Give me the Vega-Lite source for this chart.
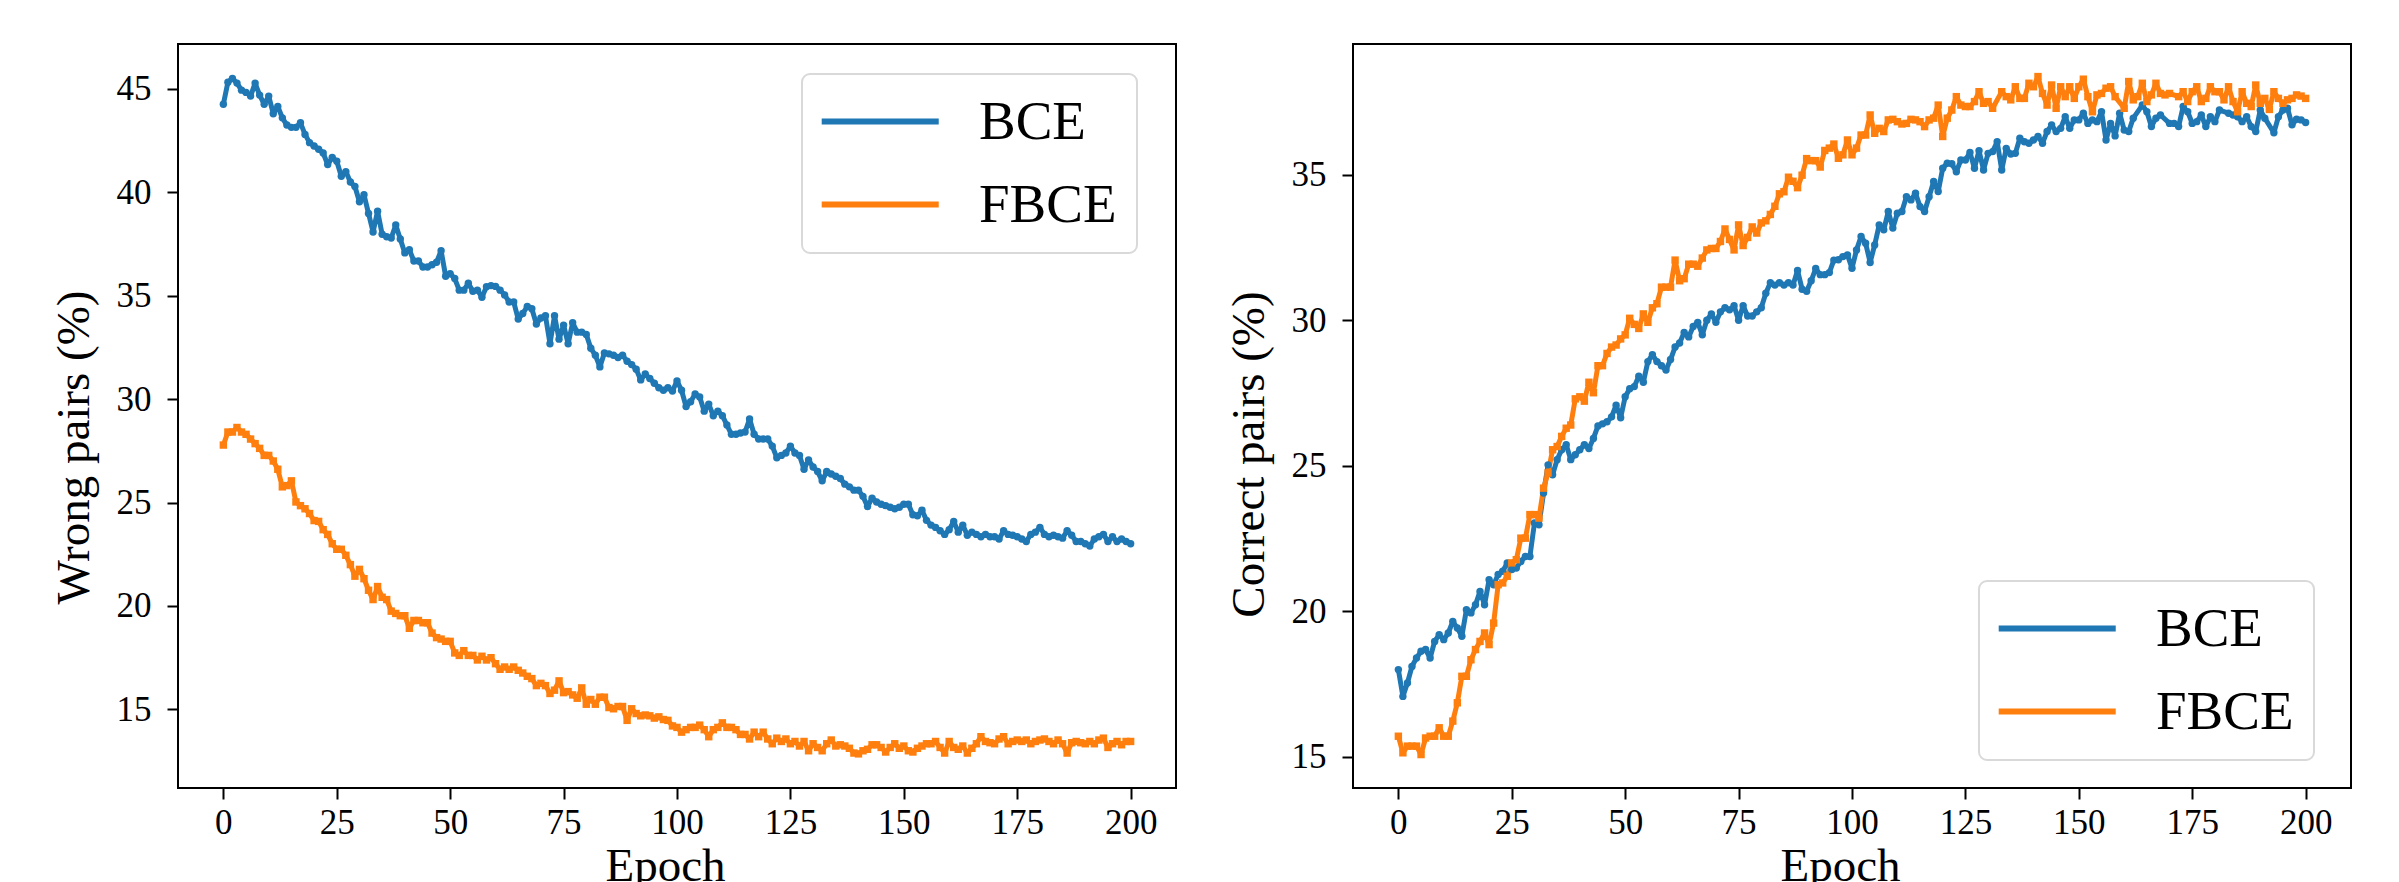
{
"$schema": "https://vega.github.io/schema/vega-lite/v6.json",
"autosize": {"type": "none"},
"padding": {"left": 178, "top": 44, "right": 2221, "bottom": 838},
"background": "white",
"spacing": 47,
"config": {
"font": "Liberation Serif",
"view": {"stroke": "black", "strokeWidth": 2},
"axis": {"domain": false, "grid": false, "tickColor": "black", "tickWidth": 2, "tickSize": 11, "labelFont": "Liberation Serif", "labelFontSize": 35, "labelColor": "black", "labelFlush": false, "labelOverlap": false, "titleFont": "Liberation Serif", "titleFontSize": 47, "titleFontWeight": "normal", "titleColor": "black"},
"axisX": {"labelPadding": 6, "titlePadding": 3},
"axisY": {"labelPadding": 16, "titlePadding": 18},
"legend": {"title": null, "symbolType": "M-1.9,0H6.1", "symbolSize": 856, "symbolStrokeWidth": 6, "labelFont": "Liberation Serif", "labelFontSize": 55, "labelColor": "black", "labelOffset": 102, "rowPadding": 27, "padding": 20, "fillColor": "white", "strokeColor": "#d9d9d9", "strokeWidth": 2, "cornerRadius": 8}
},
"datasets": {
"wrong": [
{"epoch":0,"BCE":44.26,"FBCE":27.78},{"epoch":1,"BCE":45.32,"FBCE":28.41},{"epoch":2,"BCE":45.5,"FBCE":28.41},{"epoch":3,"BCE":45.28,"FBCE":28.63},{"epoch":4,"BCE":44.94,"FBCE":28.41},{"epoch":5,"BCE":44.83,"FBCE":28.3},{"epoch":6,"BCE":44.65,"FBCE":28.07},{"epoch":7,"BCE":45.28,"FBCE":27.85},{"epoch":8,"BCE":44.7,"FBCE":27.62},{"epoch":9,"BCE":44.26,"FBCE":27.28},
{"epoch":10,"BCE":44.65,"FBCE":27.28},{"epoch":11,"BCE":43.8,"FBCE":27.01},{"epoch":12,"BCE":44.15,"FBCE":26.61},{"epoch":13,"BCE":43.6,"FBCE":25.76},{"epoch":14,"BCE":43.25,"FBCE":25.82},{"epoch":15,"BCE":43.14,"FBCE":26.05},{"epoch":16,"BCE":43.14,"FBCE":25.03},{"epoch":17,"BCE":43.36,"FBCE":24.85},{"epoch":18,"BCE":42.8,"FBCE":24.7},{"epoch":19,"BCE":42.4,"FBCE":24.47},
{"epoch":20,"BCE":42.24,"FBCE":24.13},{"epoch":21,"BCE":42.08,"FBCE":24.09},{"epoch":22,"BCE":41.9,"FBCE":23.69},{"epoch":23,"BCE":41.34,"FBCE":23.46},{"epoch":24,"BCE":41.68,"FBCE":23.01},{"epoch":25,"BCE":41.5,"FBCE":22.74},{"epoch":26,"BCE":40.78,"FBCE":22.74},{"epoch":27,"BCE":41.0,"FBCE":22.45},{"epoch":28,"BCE":40.5,"FBCE":22.0},{"epoch":29,"BCE":40.28,"FBCE":21.44},
{"epoch":30,"BCE":39.54,"FBCE":21.77},{"epoch":31,"BCE":39.88,"FBCE":21.32},{"epoch":32,"BCE":38.98,"FBCE":20.76},{"epoch":33,"BCE":38.08,"FBCE":20.31},{"epoch":34,"BCE":39.09,"FBCE":20.94},{"epoch":35,"BCE":37.97,"FBCE":20.42},{"epoch":36,"BCE":37.85,"FBCE":20.31},{"epoch":37,"BCE":37.79,"FBCE":19.75},{"epoch":38,"BCE":38.42,"FBCE":19.64},{"epoch":39,"BCE":37.74,"FBCE":19.53},
{"epoch":40,"BCE":37.07,"FBCE":19.53},{"epoch":41,"BCE":37.22,"FBCE":18.92},{"epoch":42,"BCE":36.68,"FBCE":19.3},{"epoch":43,"BCE":36.68,"FBCE":19.3},{"epoch":44,"BCE":36.39,"FBCE":19.19},{"epoch":45,"BCE":36.39,"FBCE":19.19},{"epoch":46,"BCE":36.5,"FBCE":18.69},{"epoch":47,"BCE":36.62,"FBCE":18.47},{"epoch":48,"BCE":37.18,"FBCE":18.4},{"epoch":49,"BCE":35.94,"FBCE":18.29},
{"epoch":50,"BCE":36.06,"FBCE":18.29},{"epoch":51,"BCE":35.83,"FBCE":17.73},{"epoch":52,"BCE":35.27,"FBCE":17.61},{"epoch":53,"BCE":35.27,"FBCE":17.84},{"epoch":54,"BCE":35.6,"FBCE":17.61},{"epoch":55,"BCE":35.22,"FBCE":17.61},{"epoch":56,"BCE":35.27,"FBCE":17.39},{"epoch":57,"BCE":34.93,"FBCE":17.57},{"epoch":58,"BCE":35.43,"FBCE":17.39},{"epoch":59,"BCE":35.49,"FBCE":17.5},
{"epoch":60,"BCE":35.45,"FBCE":17.21},{"epoch":61,"BCE":35.27,"FBCE":16.94},{"epoch":62,"BCE":35.04,"FBCE":17.05},{"epoch":63,"BCE":34.7,"FBCE":16.94},{"epoch":64,"BCE":34.7,"FBCE":17.05},{"epoch":65,"BCE":33.87,"FBCE":16.89},{"epoch":66,"BCE":34.14,"FBCE":16.76},{"epoch":67,"BCE":34.48,"FBCE":16.6},{"epoch":68,"BCE":34.37,"FBCE":16.49},{"epoch":69,"BCE":33.63,"FBCE":16.15},
{"epoch":70,"BCE":33.92,"FBCE":16.26},{"epoch":71,"BCE":34.03,"FBCE":16.15},{"epoch":72,"BCE":32.68,"FBCE":15.77},{"epoch":73,"BCE":34.03,"FBCE":15.93},{"epoch":74,"BCE":32.9,"FBCE":16.38},{"epoch":75,"BCE":33.58,"FBCE":15.81},{"epoch":76,"BCE":32.68,"FBCE":15.86},{"epoch":77,"BCE":33.69,"FBCE":15.7},{"epoch":78,"BCE":33.24,"FBCE":15.54},{"epoch":79,"BCE":33.24,"FBCE":16.04},
{"epoch":80,"BCE":33.13,"FBCE":15.25},{"epoch":81,"BCE":32.46,"FBCE":15.48},{"epoch":82,"BCE":32.12,"FBCE":15.25},{"epoch":83,"BCE":31.56,"FBCE":15.59},{"epoch":84,"BCE":32.23,"FBCE":15.59},{"epoch":85,"BCE":32.19,"FBCE":15.09},{"epoch":86,"BCE":32.12,"FBCE":15.03},{"epoch":87,"BCE":32.01,"FBCE":15.14},{"epoch":88,"BCE":32.12,"FBCE":15.14},{"epoch":89,"BCE":31.83,"FBCE":14.47},
{"epoch":90,"BCE":31.67,"FBCE":15.03},{"epoch":91,"BCE":31.45,"FBCE":14.8},{"epoch":92,"BCE":30.93,"FBCE":14.69},{"epoch":93,"BCE":31.22,"FBCE":14.73},{"epoch":94,"BCE":31.0,"FBCE":14.69},{"epoch":95,"BCE":30.77,"FBCE":14.58},{"epoch":96,"BCE":30.55,"FBCE":14.64},{"epoch":97,"BCE":30.43,"FBCE":14.51},{"epoch":98,"BCE":30.55,"FBCE":14.47},{"epoch":99,"BCE":30.39,"FBCE":14.2},
{"epoch":100,"BCE":30.88,"FBCE":14.13},{"epoch":101,"BCE":30.43,"FBCE":13.9},{"epoch":102,"BCE":29.64,"FBCE":14.02},{"epoch":103,"BCE":29.87,"FBCE":14.13},{"epoch":104,"BCE":30.25,"FBCE":14.13},{"epoch":105,"BCE":30.1,"FBCE":14.24},{"epoch":106,"BCE":29.42,"FBCE":14.02},{"epoch":107,"BCE":29.76,"FBCE":13.68},{"epoch":108,"BCE":29.2,"FBCE":14.02},{"epoch":109,"BCE":29.42,"FBCE":14.13},
{"epoch":110,"BCE":29.2,"FBCE":14.35},{"epoch":111,"BCE":28.75,"FBCE":14.13},{"epoch":112,"BCE":28.3,"FBCE":14.13},{"epoch":113,"BCE":28.3,"FBCE":14.02},{"epoch":114,"BCE":28.36,"FBCE":13.79},{"epoch":115,"BCE":28.41,"FBCE":13.79},{"epoch":116,"BCE":29.04,"FBCE":13.57},{"epoch":117,"BCE":28.3,"FBCE":13.9},{"epoch":118,"BCE":28.07,"FBCE":13.68},{"epoch":119,"BCE":28.07,"FBCE":13.9},
{"epoch":120,"BCE":28.07,"FBCE":13.57},{"epoch":121,"BCE":27.73,"FBCE":13.34},{"epoch":122,"BCE":27.17,"FBCE":13.61},{"epoch":123,"BCE":27.28,"FBCE":13.45},{"epoch":124,"BCE":27.4,"FBCE":13.57},{"epoch":125,"BCE":27.73,"FBCE":13.34},{"epoch":126,"BCE":27.4,"FBCE":13.45},{"epoch":127,"BCE":27.28,"FBCE":13.23},{"epoch":128,"BCE":26.61,"FBCE":13.45},{"epoch":129,"BCE":27.06,"FBCE":13.0},
{"epoch":130,"BCE":26.72,"FBCE":13.34},{"epoch":131,"BCE":26.5,"FBCE":13.16},{"epoch":132,"BCE":26.05,"FBCE":13.0},{"epoch":133,"BCE":26.5,"FBCE":13.34},{"epoch":134,"BCE":26.38,"FBCE":13.52},{"epoch":135,"BCE":26.27,"FBCE":13.23},{"epoch":136,"BCE":26.16,"FBCE":13.29},{"epoch":137,"BCE":25.89,"FBCE":13.23},{"epoch":138,"BCE":25.76,"FBCE":13.12},{"epoch":139,"BCE":25.6,"FBCE":12.89},
{"epoch":140,"BCE":25.6,"FBCE":12.85},{"epoch":141,"BCE":25.3,"FBCE":13.0},{"epoch":142,"BCE":24.81,"FBCE":13.07},{"epoch":143,"BCE":25.21,"FBCE":13.29},{"epoch":144,"BCE":25.03,"FBCE":13.29},{"epoch":145,"BCE":24.92,"FBCE":13.16},{"epoch":146,"BCE":24.85,"FBCE":12.94},{"epoch":147,"BCE":24.77,"FBCE":13.16},{"epoch":148,"BCE":24.7,"FBCE":13.34},{"epoch":149,"BCE":24.77,"FBCE":13.12},
{"epoch":150,"BCE":24.92,"FBCE":13.23},{"epoch":151,"BCE":24.92,"FBCE":13.0},{"epoch":152,"BCE":24.41,"FBCE":12.94},{"epoch":153,"BCE":24.36,"FBCE":13.12},{"epoch":154,"BCE":24.63,"FBCE":13.23},{"epoch":155,"BCE":24.14,"FBCE":13.34},{"epoch":156,"BCE":23.91,"FBCE":13.34},{"epoch":157,"BCE":23.8,"FBCE":13.45},{"epoch":158,"BCE":23.64,"FBCE":13.16},{"epoch":159,"BCE":23.46,"FBCE":12.89},
{"epoch":160,"BCE":23.69,"FBCE":13.45},{"epoch":161,"BCE":24.09,"FBCE":13.16},{"epoch":162,"BCE":23.57,"FBCE":13.07},{"epoch":163,"BCE":23.91,"FBCE":13.23},{"epoch":164,"BCE":23.42,"FBCE":12.89},{"epoch":165,"BCE":23.57,"FBCE":13.12},{"epoch":166,"BCE":23.46,"FBCE":13.34},{"epoch":167,"BCE":23.35,"FBCE":13.68},{"epoch":168,"BCE":23.46,"FBCE":13.45},{"epoch":169,"BCE":23.35,"FBCE":13.39},
{"epoch":170,"BCE":23.35,"FBCE":13.34},{"epoch":171,"BCE":23.24,"FBCE":13.57},{"epoch":172,"BCE":23.64,"FBCE":13.68},{"epoch":173,"BCE":23.46,"FBCE":13.34},{"epoch":174,"BCE":23.42,"FBCE":13.45},{"epoch":175,"BCE":23.35,"FBCE":13.52},{"epoch":176,"BCE":23.24,"FBCE":13.45},{"epoch":177,"BCE":23.12,"FBCE":13.52},{"epoch":178,"BCE":23.46,"FBCE":13.34},{"epoch":179,"BCE":23.57,"FBCE":13.45},
{"epoch":180,"BCE":23.8,"FBCE":13.52},{"epoch":181,"BCE":23.46,"FBCE":13.57},{"epoch":182,"BCE":23.35,"FBCE":13.45},{"epoch":183,"BCE":23.42,"FBCE":13.34},{"epoch":184,"BCE":23.35,"FBCE":13.52},{"epoch":185,"BCE":23.28,"FBCE":13.34},{"epoch":186,"BCE":23.64,"FBCE":12.89},{"epoch":187,"BCE":23.42,"FBCE":13.39},{"epoch":188,"BCE":23.12,"FBCE":13.45},{"epoch":189,"BCE":23.12,"FBCE":13.39},
{"epoch":190,"BCE":23.01,"FBCE":13.34},{"epoch":191,"BCE":22.9,"FBCE":13.45},{"epoch":192,"BCE":23.24,"FBCE":13.34},{"epoch":193,"BCE":23.35,"FBCE":13.52},{"epoch":194,"BCE":23.46,"FBCE":13.61},{"epoch":195,"BCE":23.12,"FBCE":13.16},{"epoch":196,"BCE":23.35,"FBCE":13.34},{"epoch":197,"BCE":23.12,"FBCE":13.45},{"epoch":198,"BCE":23.24,"FBCE":13.29},{"epoch":199,"BCE":23.12,"FBCE":13.45},
{"epoch":200,"BCE":23.01,"FBCE":13.45}
],
"correct": [
{"epoch":0,"BCE":17.99,"FBCE":15.7},{"epoch":1,"BCE":17.07,"FBCE":15.13},{"epoch":2,"BCE":17.53,"FBCE":15.36},{"epoch":3,"BCE":18.1,"FBCE":15.36},{"epoch":4,"BCE":18.39,"FBCE":15.36},{"epoch":5,"BCE":18.62,"FBCE":15.07},{"epoch":6,"BCE":18.68,"FBCE":15.64},{"epoch":7,"BCE":18.39,"FBCE":15.7},{"epoch":8,"BCE":18.96,"FBCE":15.7},{"epoch":9,"BCE":19.19,"FBCE":15.99},
{"epoch":10,"BCE":19.02,"FBCE":15.7},{"epoch":11,"BCE":19.25,"FBCE":15.7},{"epoch":12,"BCE":19.65,"FBCE":16.22},{"epoch":13,"BCE":19.42,"FBCE":16.85},{"epoch":14,"BCE":19.14,"FBCE":17.76},{"epoch":15,"BCE":20.05,"FBCE":17.76},{"epoch":16,"BCE":19.94,"FBCE":18.33},{"epoch":17,"BCE":20.22,"FBCE":18.68},{"epoch":18,"BCE":20.68,"FBCE":18.96},{"epoch":19,"BCE":20.22,"FBCE":19.25},
{"epoch":20,"BCE":21.08,"FBCE":18.85},{"epoch":21,"BCE":20.91,"FBCE":19.59},{"epoch":22,"BCE":21.26,"FBCE":20.91},{"epoch":23,"BCE":21.37,"FBCE":20.97},{"epoch":24,"BCE":21.66,"FBCE":21.2},{"epoch":25,"BCE":21.43,"FBCE":21.66},{"epoch":26,"BCE":21.48,"FBCE":21.77},{"epoch":27,"BCE":21.71,"FBCE":22.51},{"epoch":28,"BCE":21.88,"FBCE":22.51},{"epoch":29,"BCE":21.88,"FBCE":23.32},
{"epoch":30,"BCE":23.03,"FBCE":23.32},{"epoch":31,"BCE":22.97,"FBCE":23.2},{"epoch":32,"BCE":24.06,"FBCE":24.23},{"epoch":33,"BCE":25.03,"FBCE":24.75},{"epoch":34,"BCE":24.69,"FBCE":25.55},{"epoch":35,"BCE":25.21,"FBCE":25.66},{"epoch":36,"BCE":25.55,"FBCE":26.01},{"epoch":37,"BCE":25.72,"FBCE":26.29},{"epoch":38,"BCE":25.21,"FBCE":26.4},{"epoch":39,"BCE":25.38,"FBCE":27.3},
{"epoch":40,"BCE":25.55,"FBCE":27.37},{"epoch":41,"BCE":25.72,"FBCE":27.22},{"epoch":42,"BCE":25.59,"FBCE":27.87},{"epoch":43,"BCE":25.94,"FBCE":27.51},{"epoch":44,"BCE":26.37,"FBCE":28.44},{"epoch":45,"BCE":26.44,"FBCE":28.44},{"epoch":46,"BCE":26.51,"FBCE":28.86},{"epoch":47,"BCE":26.68,"FBCE":29.08},{"epoch":48,"BCE":27.08,"FBCE":29.15},{"epoch":49,"BCE":26.65,"FBCE":29.36},
{"epoch":50,"BCE":27.37,"FBCE":29.5},{"epoch":51,"BCE":27.65,"FBCE":30.07},{"epoch":52,"BCE":27.72,"FBCE":29.86},{"epoch":53,"BCE":28.08,"FBCE":29.72},{"epoch":54,"BCE":27.87,"FBCE":30.22},{"epoch":55,"BCE":28.58,"FBCE":29.93},{"epoch":56,"BCE":28.82,"FBCE":30.43},{"epoch":57,"BCE":28.58,"FBCE":30.57},{"epoch":58,"BCE":28.44,"FBCE":31.14},{"epoch":59,"BCE":28.29,"FBCE":31.14},
{"epoch":60,"BCE":28.65,"FBCE":31.14},{"epoch":61,"BCE":29.08,"FBCE":32.07},{"epoch":62,"BCE":29.22,"FBCE":31.36},{"epoch":63,"BCE":29.58,"FBCE":31.43},{"epoch":64,"BCE":29.43,"FBCE":31.93},{"epoch":65,"BCE":29.79,"FBCE":31.93},{"epoch":66,"BCE":29.93,"FBCE":31.86},{"epoch":67,"BCE":29.5,"FBCE":32.14},{"epoch":68,"BCE":30.0,"FBCE":32.42},{"epoch":69,"BCE":30.22,"FBCE":32.47},
{"epoch":70,"BCE":29.93,"FBCE":32.47},{"epoch":71,"BCE":30.29,"FBCE":32.71},{"epoch":72,"BCE":30.43,"FBCE":33.14},{"epoch":73,"BCE":30.36,"FBCE":32.78},{"epoch":74,"BCE":30.5,"FBCE":32.42},{"epoch":75,"BCE":30.0,"FBCE":33.28},{"epoch":76,"BCE":30.5,"FBCE":32.57},{"epoch":77,"BCE":30.15,"FBCE":32.85},{"epoch":78,"BCE":30.15,"FBCE":33.21},{"epoch":79,"BCE":30.29,"FBCE":33.0},
{"epoch":80,"BCE":30.43,"FBCE":33.35},{"epoch":81,"BCE":30.93,"FBCE":33.42},{"epoch":82,"BCE":31.29,"FBCE":33.64},{"epoch":83,"BCE":31.21,"FBCE":33.92},{"epoch":84,"BCE":31.29,"FBCE":34.35},{"epoch":85,"BCE":31.21,"FBCE":34.42},{"epoch":86,"BCE":31.29,"FBCE":34.92},{"epoch":87,"BCE":31.21,"FBCE":34.78},{"epoch":88,"BCE":31.71,"FBCE":34.56},{"epoch":89,"BCE":31.07,"FBCE":34.99},
{"epoch":90,"BCE":31.0,"FBCE":35.56},{"epoch":91,"BCE":31.36,"FBCE":35.49},{"epoch":92,"BCE":31.78,"FBCE":35.49},{"epoch":93,"BCE":31.57,"FBCE":35.27},{"epoch":94,"BCE":31.57,"FBCE":35.84},{"epoch":95,"BCE":31.64,"FBCE":35.92},{"epoch":96,"BCE":32.07,"FBCE":36.06},{"epoch":97,"BCE":32.08,"FBCE":35.57},{"epoch":98,"BCE":32.19,"FBCE":35.69},{"epoch":99,"BCE":32.25,"FBCE":36.2},
{"epoch":100,"BCE":31.79,"FBCE":35.69},{"epoch":101,"BCE":32.42,"FBCE":35.92},{"epoch":102,"BCE":32.88,"FBCE":36.37},{"epoch":103,"BCE":32.65,"FBCE":36.37},{"epoch":104,"BCE":31.99,"FBCE":37.06},{"epoch":105,"BCE":32.59,"FBCE":36.43},{"epoch":106,"BCE":33.28,"FBCE":36.6},{"epoch":107,"BCE":33.11,"FBCE":36.49},{"epoch":108,"BCE":33.74,"FBCE":36.89},{"epoch":109,"BCE":33.17,"FBCE":36.91},
{"epoch":110,"BCE":33.68,"FBCE":36.83},{"epoch":111,"BCE":33.74,"FBCE":36.75},{"epoch":112,"BCE":34.25,"FBCE":36.77},{"epoch":113,"BCE":34.14,"FBCE":36.91},{"epoch":114,"BCE":34.37,"FBCE":36.89},{"epoch":115,"BCE":33.91,"FBCE":36.83},{"epoch":116,"BCE":33.74,"FBCE":36.66},{"epoch":117,"BCE":34.25,"FBCE":36.89},{"epoch":118,"BCE":34.77,"FBCE":36.95},{"epoch":119,"BCE":34.43,"FBCE":37.4},
{"epoch":120,"BCE":35.23,"FBCE":36.32},{"epoch":121,"BCE":35.4,"FBCE":36.95},{"epoch":122,"BCE":35.38,"FBCE":37.23},{"epoch":123,"BCE":35.11,"FBCE":37.69},{"epoch":124,"BCE":35.51,"FBCE":37.4},{"epoch":125,"BCE":35.51,"FBCE":37.35},{"epoch":126,"BCE":35.77,"FBCE":37.35},{"epoch":127,"BCE":35.23,"FBCE":37.52},{"epoch":128,"BCE":35.83,"FBCE":37.86},{"epoch":129,"BCE":35.17,"FBCE":37.46},
{"epoch":130,"BCE":35.74,"FBCE":37.52},{"epoch":131,"BCE":35.8,"FBCE":37.29},{"epoch":132,"BCE":36.14},{"epoch":133,"BCE":35.17,"FBCE":37.86},{"epoch":134,"BCE":35.91,"FBCE":37.69},{"epoch":135,"BCE":35.72,"FBCE":37.58},{"epoch":136,"BCE":35.74,"FBCE":38.03},{"epoch":137,"BCE":36.26,"FBCE":37.63},{"epoch":138,"BCE":36.14,"FBCE":37.63},{"epoch":139,"BCE":36.09,"FBCE":38.15},
{"epoch":140,"BCE":36.2,"FBCE":38.03},{"epoch":141,"BCE":36.32,"FBCE":38.38},{"epoch":142,"BCE":36.09,"FBCE":37.8},{"epoch":143,"BCE":36.49,"FBCE":37.4},{"epoch":144,"BCE":36.72,"FBCE":38.09},{"epoch":145,"BCE":36.49,"FBCE":37.29},{"epoch":146,"BCE":36.6,"FBCE":38.03},{"epoch":147,"BCE":37.0,"FBCE":37.69},{"epoch":148,"BCE":36.6,"FBCE":38.03},{"epoch":149,"BCE":36.89,"FBCE":37.63},
{"epoch":150,"BCE":36.89,"FBCE":38.03},{"epoch":151,"BCE":37.12,"FBCE":38.29},{"epoch":152,"BCE":36.77,"FBCE":37.69},{"epoch":153,"BCE":36.89,"FBCE":37.17},{"epoch":154,"BCE":36.83,"FBCE":37.75},{"epoch":155,"BCE":37.17,"FBCE":37.8},{"epoch":156,"BCE":36.2,"FBCE":37.98},{"epoch":157,"BCE":36.77,"FBCE":38.03},{"epoch":158,"BCE":36.34,"FBCE":37.69},{"epoch":159,"BCE":37.12},
{"epoch":160,"BCE":36.54,"FBCE":37.29},{"epoch":161,"BCE":36.49,"FBCE":38.21},{"epoch":162,"BCE":36.95,"FBCE":37.58},{"epoch":163,"FBCE":37.69},{"epoch":164,"BCE":37.4,"FBCE":38.15},{"epoch":165,"BCE":37.17,"FBCE":37.52},{"epoch":166,"BCE":36.66,"FBCE":37.75},{"epoch":167,"BCE":36.95,"FBCE":38.15},{"epoch":168,"BCE":37.06,"FBCE":37.8},{"epoch":169,"FBCE":37.75},
{"epoch":170,"BCE":36.77,"FBCE":37.8},{"epoch":171,"BCE":36.77},{"epoch":172,"BCE":36.66,"FBCE":37.69},{"epoch":173,"BCE":37.35,"FBCE":37.86},{"epoch":174,"BCE":37.17,"FBCE":37.52},{"epoch":175,"BCE":36.77,"FBCE":37.86},{"epoch":176,"BCE":36.83,"FBCE":38.03},{"epoch":177,"BCE":37.06,"FBCE":37.52},{"epoch":178,"BCE":36.66,"FBCE":37.63},{"epoch":179,"BCE":37.0,"FBCE":38.03},
{"epoch":180,"BCE":36.83,"FBCE":37.86},{"epoch":181,"BCE":37.23,"FBCE":37.86},{"epoch":182,"FBCE":37.58},{"epoch":183,"BCE":37.12,"FBCE":38.03},{"epoch":184,"BCE":37.06,"FBCE":37.52},{"epoch":185,"BCE":37.0,"FBCE":37.17},{"epoch":186,"BCE":36.83,"FBCE":37.86},{"epoch":187,"BCE":37.0,"FBCE":37.46},{"epoch":188,"BCE":36.66,"FBCE":37.35},{"epoch":189,"BCE":36.49,"FBCE":38.09},
{"epoch":190,"BCE":37.23,"FBCE":37.46},{"epoch":191,"BCE":36.95,"FBCE":37.63},{"epoch":192,"FBCE":37.25},{"epoch":193,"BCE":36.45,"FBCE":37.86},{"epoch":194,"BCE":37.0,"FBCE":37.63},{"epoch":195,"BCE":37.23,"FBCE":37.46},{"epoch":196,"BCE":37.29,"FBCE":37.58},{"epoch":197,"BCE":36.72,"FBCE":37.63},{"epoch":198,"BCE":36.91,"FBCE":37.75},{"epoch":199,"BCE":36.89,"FBCE":37.71},
{"epoch":200,"BCE":36.8,"FBCE":37.63}
]
},
"hconcat": [
{
"width": 998, "height": 744,
"data": {"name": "wrong"},
"transform": [{"fold": ["BCE", "FBCE"], "as": ["loss", "value"]}, {"filter": "isValid(datum.value)"}],
"encoding": {
"x": {"field": "epoch", "type": "quantitative", "scale": {"domain": [-10, 210], "nice": false, "zero": false}, "axis": {"title": "Epoch", "values": [0, 25, 50, 75, 100, 125, 150, 175, 200], "titleX": 487}},
"y": {"field": "value", "type": "quantitative", "scale": {"domain": [11.2, 47.17], "nice": false, "zero": false}, "axis": {"title": "Wrong pairs (%)", "values": [15, 20, 25, 30, 35, 40, 45], "titleY": 403}}
},
"layer": [
{"mark": {"type": "line", "strokeWidth": 5, "strokeJoin": "round"},
 "encoding": {"color": {"field": "loss", "type": "nominal", "scale": {"domain": ["BCE", "FBCE"], "range": ["#1f77b4", "#ff7f0e"]}, "legend": {"orient": "none", "legendX": 624, "legendY": 30, "symbolType": "M-1.9,0H6.1"}}}},
{"transform": [{"filter": "datum.loss === 'BCE'"}], "mark": {"type": "point", "shape": "circle", "filled": true, "size": 55, "opacity": 1, "color": "#1f77b4"}},
{"transform": [{"filter": "datum.loss === 'FBCE'"}], "mark": {"type": "point", "shape": "square", "filled": true, "size": 55, "opacity": 1, "color": "#ff7f0e"}}
]
},
{
"width": 998, "height": 744,
"data": {"name": "correct"},
"transform": [{"fold": ["BCE", "FBCE"], "as": ["loss", "value"]}, {"filter": "isValid(datum.value)"}],
"encoding": {
"x": {"field": "epoch", "type": "quantitative", "scale": {"domain": [-10, 210], "nice": false, "zero": false}, "axis": {"title": "Epoch", "values": [0, 25, 50, 75, 100, 125, 150, 175, 200], "titleX": 487}},
"y": {"field": "value", "type": "quantitative", "scale": {"domain": [13.92, 39.5], "nice": false, "zero": false}, "axis": {"title": "Correct pairs (%)", "values": [15, 20, 25, 30, 35], "titleY": 410}}
},
"layer": [
{"mark": {"type": "line", "strokeWidth": 5, "strokeJoin": "round"},
 "encoding": {"color": {"field": "loss", "type": "nominal", "scale": {"domain": ["BCE", "FBCE"], "range": ["#1f77b4", "#ff7f0e"]}, "legend": {"orient": "none", "legendX": 626, "legendY": 537, "symbolType": "M-1.9,0H6.1"}}}},
{"transform": [{"filter": "datum.loss === 'BCE'"}], "mark": {"type": "point", "shape": "circle", "filled": true, "size": 55, "opacity": 1, "color": "#1f77b4"}},
{"transform": [{"filter": "datum.loss === 'FBCE'"}], "mark": {"type": "point", "shape": "square", "filled": true, "size": 55, "opacity": 1, "color": "#ff7f0e"}}
]
}
],
"resolve": {"scale": {"color": "independent", "y": "independent"}, "legend": {"color": "independent"}}
}
